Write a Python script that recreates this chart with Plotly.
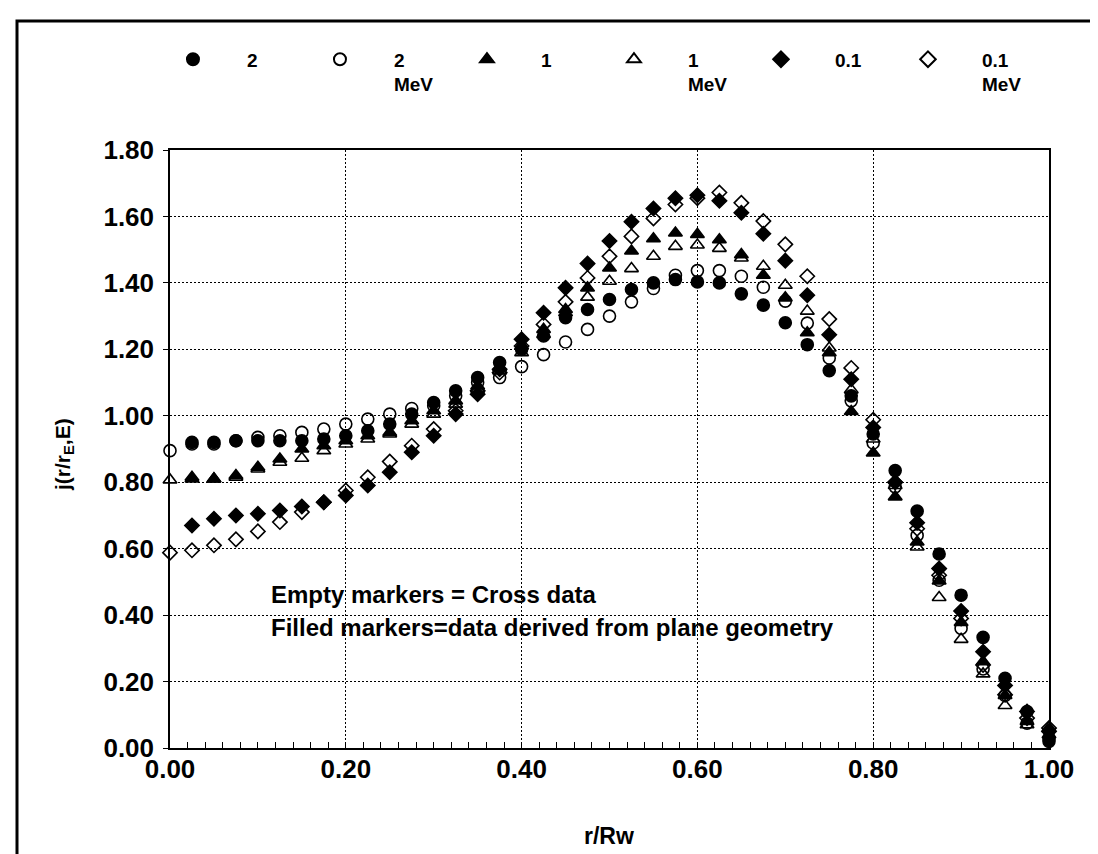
import plotly.graph_objects as go

# r/Rw positions
r = [0.000, 0.025, 0.050, 0.075, 0.100, 0.125, 0.150, 0.175, 0.200, 0.225,
     0.250, 0.275, 0.300, 0.325, 0.350, 0.375, 0.400, 0.425, 0.450, 0.475,
     0.500, 0.525, 0.550, 0.575, 0.600, 0.625, 0.650, 0.675, 0.700, 0.725,
     0.750, 0.775, 0.800, 0.825, 0.850, 0.875, 0.900, 0.925, 0.950, 0.975, 1.000]

# 2 MeV, plane geometry (filled circle)
fc_2mev = [None, 0.92, 0.92, 0.925, 0.925, 0.925, 0.925, 0.93, 0.94, 0.955,
           0.975, 1.005, 1.04, 1.075, 1.115, 1.16, 1.20, 1.24, 1.295, 1.32,
           1.35, 1.38, 1.40, 1.41, 1.403, 1.40, 1.367, 1.333, 1.28, 1.214,
           1.136, 1.06, 0.945, 0.835, 0.713, 0.584, 0.46, 0.333, 0.21, 0.11, 0.02]
# 2 MeV, Cross data (empty circle)
oc_2mev = [0.895, 0.915, 0.915, 0.925, 0.935, 0.94, 0.95, 0.96, 0.975, 0.99,
           1.005, 1.022, 1.03, 1.06, 1.10, 1.115, 1.148, 1.184, 1.222, 1.26,
           1.30, 1.343, 1.383, 1.423, 1.437, 1.437, 1.42, 1.387, 1.345, 1.279,
           1.174, 1.045, 0.918, 0.786, 0.64, 0.505, 0.36, 0.238, 0.158, 0.075, 0.03]
# 1 MeV, plane geometry (filled triangle)
ft_1mev = [None, 0.815, 0.81, 0.82, 0.845, 0.87, 0.90, 0.91, 0.925, 0.94,
           0.95, 0.985, 1.015, 1.045, 1.09, 1.145, 1.21, 1.26, 1.32, 1.385,
           1.445, 1.496, 1.533, 1.55, 1.546, 1.53, 1.485, 1.423, 1.355, 1.25,
           1.19, 1.013, 0.888, 0.756, 0.62, 0.503, 0.378, 0.26, 0.158, 0.08, 0.04]
# 1 MeV, Cross data (empty triangle)
ot_1mev = [0.807, 0.81, 0.81, 0.815, 0.84, 0.86, 0.872, 0.895, 0.915, 0.93,
           0.945, 0.975, 1.005, 1.035, 1.08, 1.135, 1.19, 1.245, 1.31, 1.357,
           1.405, 1.443, 1.48, 1.51, 1.514, 1.504, 1.475, 1.45, 1.393, 1.315,
           1.204, 1.078, 0.93, 0.79, 0.605, 0.453, 0.327, 0.223, 0.128, 0.07, 0.06]
# 0.1 MeV, plane geometry (filled diamond)
fd_01mev = [None, 0.67, 0.69, 0.70, 0.705, 0.715, 0.727, 0.74, 0.76, 0.79,
            0.83, 0.89, 0.94, 1.005, 1.065, 1.14, 1.23, 1.31, 1.385, 1.458,
            1.526, 1.584, 1.624, 1.655, 1.664, 1.647, 1.611, 1.548, 1.467, 1.363,
            1.244, 1.11, 0.965, 0.80, 0.678, 0.54, 0.412, 0.29, 0.188, 0.11, 0.05]
# 0.1 MeV, Cross data (empty diamond)
od_01mev = [0.588, 0.595, 0.61, 0.628, 0.652, 0.68, 0.71, 0.74, 0.775, 0.815,
            0.862, 0.91, 0.96, 1.015, 1.075, 1.13, 1.21, 1.275, 1.343, 1.415,
            1.48, 1.54, 1.594, 1.636, 1.655, 1.672, 1.641, 1.586, 1.516, 1.42,
            1.291, 1.144, 0.988, 0.80, 0.66, 0.52, 0.39, 0.25, 0.16, 0.09, 0.06]

series_names = ["2", "2<br>MeV", "1", "1<br>MeV", "0.1", "0.1<br>MeV"]
series_values = [fc_2mev, oc_2mev, ft_1mev, ot_1mev, fd_01mev, od_01mev]
series_symbols = ["circle", "circle-open", "triangle-up", "triangle-up-open",
                  "diamond", "diamond-open"]
series_sizes = [12, 12, 12, 12, 11, 11]

FONT = "Liberation Sans, Arial, Helvetica, sans-serif"

fig = go.Figure()
for name, vals, sym, sz in zip(series_names, series_values, series_symbols, series_sizes):
    fig.add_trace(go.Scatter(
        x=r, y=vals, mode="markers", name=name,
        marker=dict(symbol=sym, size=sz, color="black",
                    line=dict(color="black", width=1.6)),
        cliponaxis=False,
    ))

axis_common = dict(
    showgrid=True, gridcolor="black", griddash="2px,2px", gridwidth=1,
    showline=True, linecolor="black", linewidth=1.5, mirror=True,
    zeroline=False, tickformat=".2f",
    tickfont=dict(family=FONT, size=26, color="black", weight="bold"),
    tickcolor="black",
)

fig.update_layout(
    width=1098, height=854,
    paper_bgcolor="white", plot_bgcolor="white",
    margin=dict(l=162, r=57, t=142, b=114, autoexpand=False),
    showlegend=True,
    legend=dict(
        orientation="h", x=-0.0353, xanchor="left", y=1.1834, yanchor="top",
        entrywidth=34, entrywidthmode="pixels", itemwidth=98, valign="top",
        font=dict(family=FONT, size=19, color="black", weight="bold"),
        bgcolor="rgba(0,0,0,0)", traceorder="normal", itemsizing="constant",
    ),
    xaxis=dict(range=[0, 1], dtick=0.2, tick0=0, ticks="inside", ticklen=6,
               ticklabelstandoff=-3,
               minor=dict(dtick=0.02, ticks="inside", ticklen=6, tickcolor="black",
                          showgrid=False),
               **axis_common),
    yaxis=dict(range=[0, 1.8], dtick=0.2, tick0=0, ticks="outside", ticklen=5,
               ticklabelstandoff=4, **axis_common),
    annotations=[
        dict(text="Empty markers = Cross data", x=0.113, y=0.463, xref="x", yref="y",
             xanchor="left", yanchor="middle", showarrow=False,
             font=dict(family=FONT, size=24, color="black", weight="bold")),
        dict(text="Filled markers=data derived from plane geometry", x=0.113, y=0.364,
             xref="x", yref="y", xanchor="left", yanchor="middle", showarrow=False,
             font=dict(family=FONT, size=24, color="black", weight="bold")),
        dict(text="j(r/r<sub>E</sub>,E)", x=0, y=0.49, xref="paper", yref="paper",
             xshift=-106, textangle=-90, showarrow=False, xanchor="center", yanchor="middle",
             font=dict(family=FONT, size=21, color="black", weight="bold")),
        dict(text="r/Rw", x=0.499, y=0, xref="paper", yref="paper", yshift=-88,
             showarrow=False, xanchor="center", yanchor="middle",
             font=dict(family=FONT, size=23, color="black", weight="bold")),
    ],
    shapes=[
        dict(type="rect", xref="paper", yref="paper", xsizemode="pixel", ysizemode="pixel",
             xanchor=0, yanchor=0, x0=-153, x1=950, y0=-130, y1=727,
             line=dict(color="black", width=3), fillcolor="rgba(0,0,0,0)", layer="above"),
    ],
)

fig.write_html("out.html")
